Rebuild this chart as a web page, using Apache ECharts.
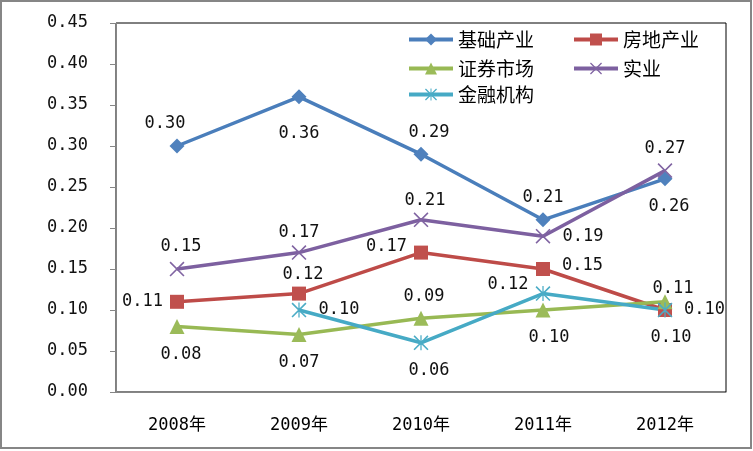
<!DOCTYPE html>
<html>
<head>
<meta charset="utf-8">
<script src="https://cdn.jsdelivr.net/npm/echarts@6/dist/echarts.min.js"></script>
<style>
html, body { margin: 0; padding: 0; background: #fff; }
#main { width: 753px; height: 451px; }
</style>
</head>
<body>
<div id="main"></div>
<script>
// 数据
var years = ['2008年', '2009年', '2010年', '2011年', '2012年'];
var yTicks = [0, 0.45, 0.05];
var jichu = [0.30, 0.36, 0.29, 0.21, 0.26];
var fangdi = [0.11, 0.12, 0.17, 0.15, 0.10];
var zhengquan = [0.08, 0.07, 0.09, 0.10, 0.11];
var shiye = [0.15, 0.17, 0.21, 0.19, 0.27];
var jinrong = [null, 0.10, 0.06, 0.12, 0.10];

// 标签位置（与数据分开）
var posJichu = ['top', 'bottom', 'top', 'top', 'bottom'];
var posFangdi = ['left', 'top', 'left', 'right', 'right'];
var posZhengquan = ['bottom', 'bottom', 'top', 'bottom', 'top'];
var posShiye = ['top', 'top', 'top', 'right', 'top'];
var posJinrong = [null, 'right', 'bottom', 'left', 'bottom'];
var offJichu = [[-12, 0], [0, 9], [8, 0], null, [4, 0]];
var offFangdi = [null, [4, 2], [0, -6], [0, -3], null];
var offZhengquan = [[4, 0], null, [3, 0], [6, 0], [8, 9]];
var offShiye = [[4, 0], [0, 2], [4, 3], null, null];
var offJinrong = [null, null, [8, 0], [0, -9], [6, 0]];
var labelDist = { top: 6, bottom: 12, left: 7, right: 12 };

var monoFont = 'DejaVu Sans Mono';
var cjkFont = 'DejaVu Sans Mono, Noto Sans CJK SC';

var xMark = 'path://M0,0.9L0.9,0L12,11.1L11.1,12Z M11.1,0L12,0.9L0.9,12L0,11.1Z';
var starMark = 'path://M0,0.9L0.9,0L12,11.1L11.1,12Z M11.1,0L12,0.9L0.9,12L0,11.1Z M5.5,0L6.5,0L6.5,12L5.5,12Z';

function buildData(vals, pos, off) {
	return vals.map(function (v, i) {
		if (v == null) return '-';
		var lab = { position: pos[i], distance: labelDist[pos[i]] };
		if (off && off[i]) lab.offset = off[i];
		return { value: v, label: lab };
	});
}

function mkSeries(name, vals, pos, off, lineColor, markColor, symbol, size) {
	return {
		name: name,
		type: 'line',
		data: buildData(vals, pos, off),
		symbol: symbol,
		symbolSize: size,
		lineStyle: { color: lineColor, width: 3.5 },
		itemStyle: { color: markColor },
		label: {
			show: true,
			color: '#111',
			fontFamily: monoFont,
			fontSize: 17,
			formatter: function (p) { return p.value.toFixed(2); }
		},
		animation: false
	};
}

function mkLegend(name, left, top) {
	return {
		data: [name],
		left: left,
		top: top,
		padding: 0,
		itemWidth: 44,
		itemHeight: 15,
		lineStyle: { width: 4 },
		textStyle: { fontFamily: 'Noto Sans CJK SC', fontSize: 19, color: '#000' }
	};
}

var myChart = echarts.init(document.getElementById('main'));

option = {
	backgroundColor: '#fff',
	animation: false,
	graphic: [{
		type: 'rect',
		shape: { x: 1, y: 1, width: 750, height: 447 },
		style: { fill: 'none', stroke: '#868686', lineWidth: 2 },
		z: 100
	}],
	grid: {
		left: 116,
		right: 27,
		top: 23,
		bottom: 59,
		show: true,
		borderColor: '#000',
		borderWidth: 1
	},
	legend: [
		mkLegend('基础产业', 407, 30),
		mkLegend('房地产业', 572, 30),
		mkLegend('证券市场', 407, 59),
		mkLegend('实业', 572, 59),
		mkLegend('金融机构', 407, 85)
	],
	xAxis: {
		type: 'category',
		data: years,
		axisLine: { lineStyle: { color: '#868686', width: 1 } },
		axisTick: { length: 5, lineStyle: { color: '#868686' } },
		axisLabel: { margin: 25, color: '#000', fontFamily: cjkFont, fontSize: 17 }
	},
	yAxis: {
		type: 'value',
		min: yTicks[0],
		max: yTicks[1],
		interval: yTicks[2],
		splitLine: { show: false },
		axisLine: { show: true, lineStyle: { color: '#868686', width: 1 } },
		axisTick: { show: true, length: 6, lineStyle: { color: '#868686' } },
		axisLabel: {
			margin: 28,
			color: '#111',
			fontFamily: monoFont,
			fontSize: 17,
			formatter: function (v) { return v.toFixed(2); }
		}
	},
	series: [
		mkSeries('基础产业', jichu, posJichu, offJichu, '#4a7ebb', '#4f81bd', 'diamond', 15),
		mkSeries('房地产业', fangdi, posFangdi, offFangdi, '#be4b48', '#c0504d', 'rect', 14),
		mkSeries('证券市场', zhengquan, posZhengquan, offZhengquan, '#98b954', '#9bbb59', 'triangle', 15),
		mkSeries('实业', shiye, posShiye, offShiye, '#7d60a0', '#8064a2', xMark, 15),
		mkSeries('金融机构', jinrong, posJinrong, offJinrong, '#46aac5', '#4bacc6', starMark, 15)
	]
};

myChart.setOption(option);
</script>
</body>
</html>
